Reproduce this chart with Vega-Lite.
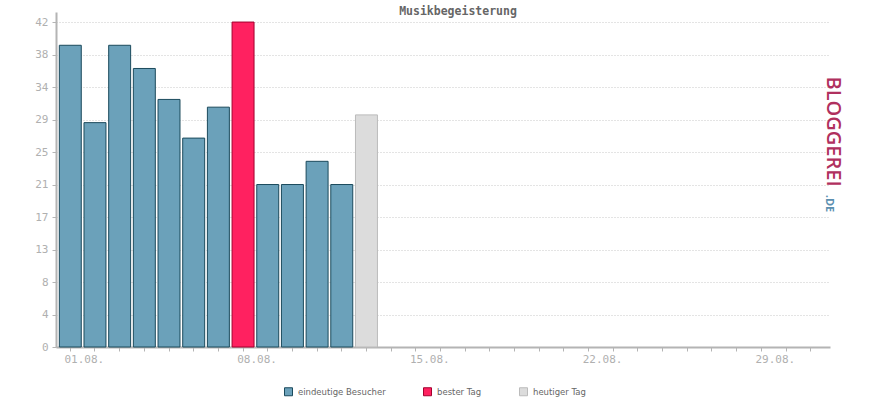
{
  "$schema": "https://vega.github.io/schema/vega-lite/v6.json",
  "width": 774,
  "height": 335,
  "autosize": {"type": "none"},
  "padding": {"left": 56, "top": 12, "right": 40, "bottom": 53},
  "background": "white",
  "title": {"text": "Musikbegeisterung", "anchor": "middle", "offset": -5, "dx": 15, "font": "DejaVu Sans Mono", "fontSize": 11.5, "fontWeight": "bold", "color": "#666666"},
  "data": {"values": [
    {"tag": "01.08.", "wert": 39, "typ": "eindeutige Besucher"},
    {"tag": "02.08.", "wert": 29, "typ": "eindeutige Besucher"},
    {"tag": "03.08.", "wert": 39, "typ": "eindeutige Besucher"},
    {"tag": "04.08.", "wert": 36, "typ": "eindeutige Besucher"},
    {"tag": "05.08.", "wert": 32, "typ": "eindeutige Besucher"},
    {"tag": "06.08.", "wert": 27, "typ": "eindeutige Besucher"},
    {"tag": "07.08.", "wert": 31, "typ": "eindeutige Besucher"},
    {"tag": "08.08.", "wert": 42, "typ": "bester Tag"},
    {"tag": "09.08.", "wert": 21, "typ": "eindeutige Besucher"},
    {"tag": "10.08.", "wert": 21, "typ": "eindeutige Besucher"},
    {"tag": "11.08.", "wert": 24, "typ": "eindeutige Besucher"},
    {"tag": "12.08.", "wert": 21, "typ": "eindeutige Besucher"},
    {"tag": "13.08.", "wert": 30, "typ": "heutiger Tag"}
  ]},
  "encoding": {
    "x": {
      "field": "tag", "type": "nominal", "sort": null,
      "scale": {
        "domain": ["01.08.","02.08.","03.08.","04.08.","05.08.","06.08.","07.08.","08.08.","09.08.","10.08.","11.08.","12.08.","13.08.","14.08.","15.08.","16.08.","17.08.","18.08.","19.08.","20.08.","21.08.","22.08.","23.08.","24.08.","25.08.","26.08.","27.08.","28.08.","29.08.","30.08.","31.08."],
        "paddingInner": 0.11, "paddingOuter": 0.2355, "align": 0.285
      },
      "axis": {
        "title": null, "labelAngle": 0, "labelOverlap": false,
        "labelExpr": "indexof(['01.08.','08.08.','15.08.','22.08.','29.08.'], datum.value) >= 0 ? datum.value : ''",
        "labelOffset": 14, "labelFont": "DejaVu Sans Mono", "labelFontSize": 11, "labelColor": "#b0b0b0",
        "tickColor": "#b4b4b4", "tickSize": 4, "domainColor": "#b4b4b4", "domainWidth": 2,
        "labelPadding": 2, "grid": false
      }
    }
  },
  "layer": [
    {
      "mark": {"type": "bar", "strokeWidth": 1},
      "encoding": {
        "y": {
          "field": "wert", "type": "quantitative",
          "scale": {"domain": [0, 43.3], "nice": false, "zero": true},
          "axis": {
            "title": null, "values": [0, 4.2, 8.4, 12.6, 16.8, 21, 25.2, 29.4, 33.6, 37.8, 42],
            "labelExpr": "format(datum.value, '.0f')",
            "labelFont": "DejaVu Sans Mono", "labelFontSize": 11, "labelColor": "#b0b0b0",
            "tickColor": "#b4b4b4", "tickSize": 4, "domainColor": "#b4b4b4", "domainWidth": 2,
            "labelPadding": 4, "grid": true, "gridColor": "#c8c8c8", "gridDash": [1, 2], "gridWidth": 1
          }
        },
        "fill": {
          "field": "typ", "type": "nominal",
          "scale": {"domain": ["eindeutige Besucher", "bester Tag", "heutiger Tag"], "range": ["#6ba1ba", "#ff2160", "#dcdcdc"]},
          "legend": {"orient": "none", "legendX": 228, "legendY": 375, "direction": "horizontal", "title": null, "symbolType": "square", "symbolSize": 64, "symbolStrokeWidth": 1, "labelFont": "DejaVu Sans", "labelFontSize": 8.5, "labelColor": "#666666", "columnPadding": 35, "labelOffset": 5}
        },
        "stroke": {
          "field": "typ", "type": "nominal",
          "scale": {"domain": ["eindeutige Besucher", "bester Tag", "heutiger Tag"], "range": ["#1b4a5c", "#a3002e", "#bbbbbb"]},
          "legend": {"orient": "none", "legendX": 228, "legendY": 375, "direction": "horizontal", "title": null, "symbolType": "square", "symbolSize": 64, "symbolStrokeWidth": 1, "labelFont": "DejaVu Sans", "labelFontSize": 8.5, "labelColor": "#666666", "columnPadding": 35, "labelOffset": 5}
        }
      }
    },
    {
      "mark": {"type": "tick", "opacity": 0},
      "encoding": {
        "y": {
          "field": "wert", "type": "quantitative",
          "axis": {"orient": "right", "labels": false, "ticks": false, "domain": false, "grid": false,
            "title": "BLOGGEREI", "titleAngle": 90, "titleFont": "Open Sans", "titleFontSize": 20, "titleFontWeight": 600,
            "titleColor": "#b0305e", "titleX": 2, "titleY": 119, "titleAlign": "center", "titleBaseline": "middle"}
        }
      }
    },
    {
      "mark": {"type": "tick", "opacity": 0},
      "encoding": {
        "y": {
          "field": "wert", "type": "quantitative",
          "axis": {"orient": "right", "labels": false, "ticks": false, "domain": false, "grid": false,
            "title": ".DE", "titleAngle": 90, "titleFont": "Open Sans", "titleFontSize": 11,
            "titleColor": "#5b8fb0", "titleX": -2, "titleY": 191, "titleAlign": "center", "titleBaseline": "middle"}
        }
      }
    }
  ],
  "resolve": {"axis": {"y": "independent"}},
  "config": {"view": {"stroke": null}}
}
